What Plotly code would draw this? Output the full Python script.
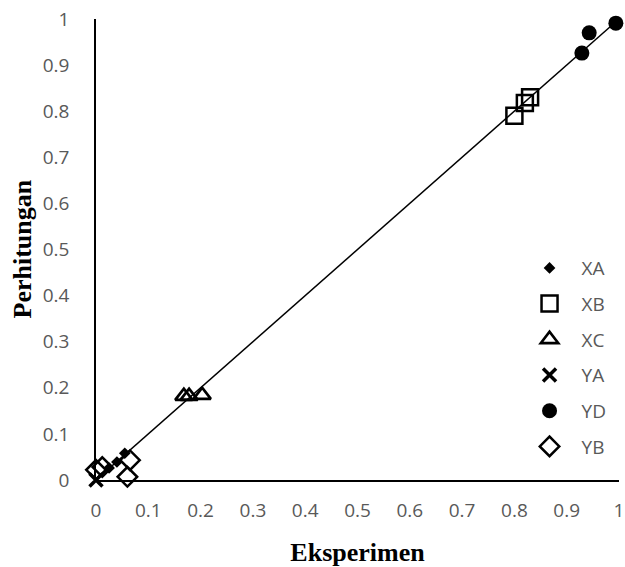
import plotly.graph_objects as go

# Data (Eksperimen vs Perhitungan)
xa_x = [0.025, 0.040, 0.055]
xa_y = [0.026, 0.039, 0.058]

xb_x = [0.800, 0.820, 0.830]
xb_y = [0.790, 0.818, 0.830]

xc_x = [0.168, 0.178, 0.203]
xc_y = [0.182, 0.182, 0.184]

ya_x = [0.000]
ya_y = [0.000]

yd_x = [0.929, 0.943, 0.994]
yd_y = [0.926, 0.970, 0.991]

yb_x = [0.000, 0.012, 0.065, 0.060]
yb_y = [0.022, 0.028, 0.043, 0.007]

trend_x = [0.0, 0.994]
trend_y = [0.0, 0.994]

tick_vals = [0, 0.1, 0.2, 0.3, 0.4, 0.5, 0.6, 0.7, 0.8, 0.9, 1]
tick_text = ["0", "0.1", "0.2", "0.3", "0.4", "0.5", "0.6", "0.7", "0.8", "0.9", "1"]

x_title = "Eksperimen"
y_title = "Perhitungan"

fig = go.Figure()

def add(name, xs, ys, symbol, size, lw, group):
    fig.add_trace(go.Scatter(
        x=xs, y=ys, mode="markers", name=name, legendgroup=group,
        marker=dict(symbol=symbol, size=size, color="black",
                    line=dict(color="black", width=lw)),
        cliponaxis=False,
    ))

add("XA", xa_x, xa_y, "diamond", 9, 0, "g1")
add("XB", xb_x, xb_y, "square-open", 16, 2.5, "g2")
add("XC", xc_x, xc_y, "triangle-up-open", 15, 2.7, "g3")
add("YA", ya_x, ya_y, "x-thin", 13, 3.5, "g4")
add("YD", yd_x, yd_y, "circle", 15, 0, "g5")
add("YB", yb_x, yb_y, "diamond-open", 15, 2.5, "g6")

fig.add_trace(go.Scatter(
    x=trend_x, y=trend_y, mode="lines", showlegend=False,
    line=dict(color="black", width=1.5), cliponaxis=False,
))

sans = "Open Sans, Liberation Sans, sans-serif"
tick_font = dict(family=sans, size=19, color="#595959")
title_font = dict(family="Liberation Serif, Times New Roman, serif", size=26, color="black")

fig.update_layout(
    width=625, height=567,
    margin=dict(l=96, r=6, t=19, b=87),
    paper_bgcolor="white", plot_bgcolor="white",
    showlegend=True,
    hovermode=False,
    legend=dict(
        x=0.806, y=0.501, xanchor="left", yanchor="top",
        font=dict(family=sans, size=19, color="#595959"),
        traceorder="grouped", tracegroupgap=8, itemwidth=54,
        bgcolor="rgba(0,0,0,0)",
    ),
    xaxis=dict(
        range=[0, 1], tickvals=tick_vals, ticktext=tick_text,
        showgrid=False, zeroline=False, showline=True, linecolor="black", linewidth=1.5,
        ticks="", tickfont=tick_font, ticklabelstandoff=12, automargin=False,
        ticklabeloverflow="allow",
        title=dict(text="<b>" + x_title + "</b>", font=title_font, standoff=22),
    ),
    yaxis=dict(
        range=[0, 1], tickvals=tick_vals, ticktext=tick_text,
        showgrid=False, zeroline=False, showline=True, linecolor="black", linewidth=1.5,
        ticks="", tickfont=tick_font, ticklabelstandoff=21, automargin=False,
        ticklabeloverflow="allow",
    ),
    annotations=[dict(
        text="<b>" + y_title + "</b>", xref="paper", yref="paper",
        x=0, y=0.5, xanchor="center", yanchor="middle", xshift=-74,
        textangle=-90, showarrow=False, font=title_font,
    )],
)

fig.write_html(
    "out.html",
    config={"displayModeBar": False},
    post_script="document.body.style.margin='0';document.body.style.overflow='hidden';",
)
